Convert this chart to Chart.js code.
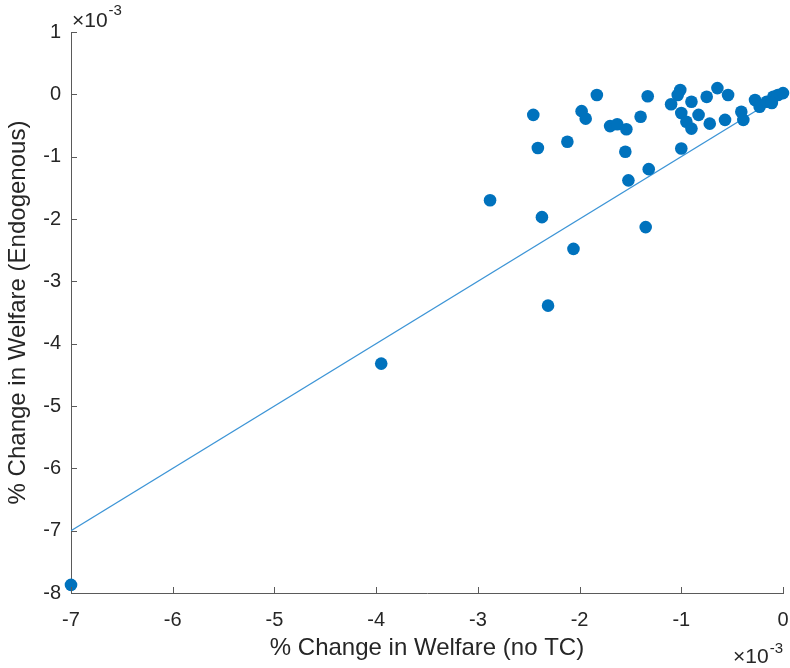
<!DOCTYPE html>
<html>
<head>
<meta charset="utf-8">
<script src="https://cdn.jsdelivr.net/npm/chart.js@4/dist/chart.umd.min.js"></script>
<style>
  html, body { margin: 0; padding: 0; background: #fff; }
  #wrap { width: 790px; height: 668px; }
</style>
</head>
<body>
<div id="wrap"><canvas id="welfare"></canvas></div>
<script>
// welfare change per region, in units of 1e-3 (%)
const noTC = [-7.00, -3.95, -2.88, -2.37, -2.06, -2.31, -1.52, -1.32, -1.35, -2.455,
  -2.41, -2.12, -1.83, -1.98, -1.94, -1.70, -1.63, -1.54, -1.55, -1.40,
  -1.33, -1.01, -1.035, -1.10, -0.90, -1.00, -0.83, -0.95, -0.90, -0.72,
  -0.57, -0.75, -0.645, -0.54, -1.00, -0.41, -0.39, -0.275, -0.23, -0.16,
  -0.095, -0.05, 0.00, -0.11];
const endogenous = [-7.87, -4.32, -1.70, -1.97, -2.48, -3.39, -1.38, -1.20, -2.13, -0.33,
  -0.86, -0.76, -0.01, -0.27, -0.39, -0.51, -0.48, -0.56, -0.92, -0.36,
  -0.03, 0.07, -0.01, -0.16, -0.12, -0.30, -0.33, -0.44, -0.55, -0.47,
  -0.41, -0.04, 0.10, -0.01, -0.87, -0.28, -0.41, -0.09, -0.20, -0.12,
  -0.04, -0.01, 0.02, -0.14];

// 45 degree reference line
const diagX = [-7, 0];
const diagY = [-7, 0];

const xTicks = [-7, -6, -5, -4, -3, -2, -1, 0];
const yTicks = [1, 0, -1, -2, -3, -4, -5, -6, -7, -8];

const axisGray = '#5a5a5a';
const labelGray = '#262626';
const fontFamily = '"Liberation Sans", Arial, Helvetica, sans-serif';

// MATLAB style: ticks point into the plot, exponent labels at the axis ends
const matlabAxes = {
  id: 'matlabAxes',
  afterDraw(chart) {
    const { ctx, chartArea } = chart;
    const xs = chart.scales.x, ys = chart.scales.y;
    ctx.save();
    ctx.strokeStyle = axisGray;
    ctx.lineWidth = 1;
    ctx.beginPath();
    xTicks.forEach(v => {
      const px = Math.round(xs.getPixelForValue(v)) + 0.5;
      ctx.moveTo(px, chartArea.bottom);
      ctx.lineTo(px, chartArea.bottom - 6);
    });
    yTicks.forEach(v => {
      const py = Math.round(ys.getPixelForValue(v)) + 0.5;
      ctx.moveTo(chartArea.left, py);
      ctx.lineTo(chartArea.left + 6, py);
    });
    ctx.stroke();

    ctx.fillStyle = labelGray;
    ctx.textBaseline = 'alphabetic';
    // top left: x10^-3 for the y axis
    ctx.textAlign = 'left';
    ctx.font = '21px ' + fontFamily;
    ctx.fillText('\u00d710', chartArea.left + 1, 27);
    const w = ctx.measureText('\u00d710').width;
    ctx.font = '15px ' + fontFamily;
    ctx.fillText('-3', chartArea.left + 2 + w, 15);
    // bottom right: x10^-3 for the x axis
    const ew = ctx.measureText('-3').width;
    ctx.textAlign = 'right';
    ctx.fillText('-3', chartArea.right, 653);
    ctx.font = '21px ' + fontFamily;
    ctx.fillText('\u00d710', chartArea.right - ew - 1, 663);
    ctx.restore();
  }
};

new Chart(document.getElementById('welfare'), {
  type: 'scatter',
  data: {
    datasets: [{
      label: 'regions',
      data: noTC.map((x, i) => ({ x: x, y: endogenous[i] })),
      backgroundColor: '#0072BD',
      borderColor: '#0072BD',
      borderWidth: 0,
      pointRadius: 6.3,
      pointHoverRadius: 6.3,
      clip: false,
      order: 0
    }, {
      type: 'line',
      label: '45 degree',
      data: diagX.map((x, i) => ({ x: x, y: diagY[i] })),
      borderColor: '#3d95d6',
      borderWidth: 1.2,
      pointRadius: 0,
      fill: false,
      order: 1
    }]
  },
  options: {
    responsive: true,
    maintainAspectRatio: false,
    animation: false,
    devicePixelRatio: 1,
    layout: { padding: { top: 32, right: 7, left: 0, bottom: 0 } },
    plugins: {
      legend: { display: false },
      tooltip: { enabled: false }
    },
    scales: {
      x: {
        type: 'linear',
        min: -7,
        max: 0,
        afterFit: s => { s.height = 75; s.paddingLeft = 0; s.paddingRight = 0; },
        afterBuildTicks: s => { s.ticks = xTicks.map(v => ({ value: v })); },
        grid: { display: false, drawTicks: false },
        border: { display: true, color: axisGray, width: 1 },
        ticks: {
          color: labelGray,
          font: { family: fontFamily, size: 20 },
          padding: 15,
          maxRotation: 0
        },
        title: {
          display: true,
          text: '% Change in Welfare (no TC)',
          color: labelGray,
          font: { family: fontFamily, size: 24 },
          padding: { top: 0, bottom: 5 }
        }
      },
      y: {
        type: 'linear',
        min: -8,
        max: 1,
        afterFit: s => { s.width = 71; s.paddingTop = 0; s.paddingBottom = 0; },
        afterBuildTicks: s => { s.ticks = yTicks.slice().reverse().map(v => ({ value: v })); },
        grid: { display: false, drawTicks: false },
        border: { display: true, color: axisGray, width: 1 },
        ticks: {
          color: labelGray,
          font: { family: fontFamily, size: 20 },
          padding: 10
        },
        title: {
          display: true,
          text: '% Change in Welfare (Endogenous)',
          color: labelGray,
          font: { family: fontFamily, size: 24 },
          padding: { top: 4, bottom: 0 }
        }
      }
    }
  },
  plugins: [matlabAxes]
});
</script>
</body>
</html>
